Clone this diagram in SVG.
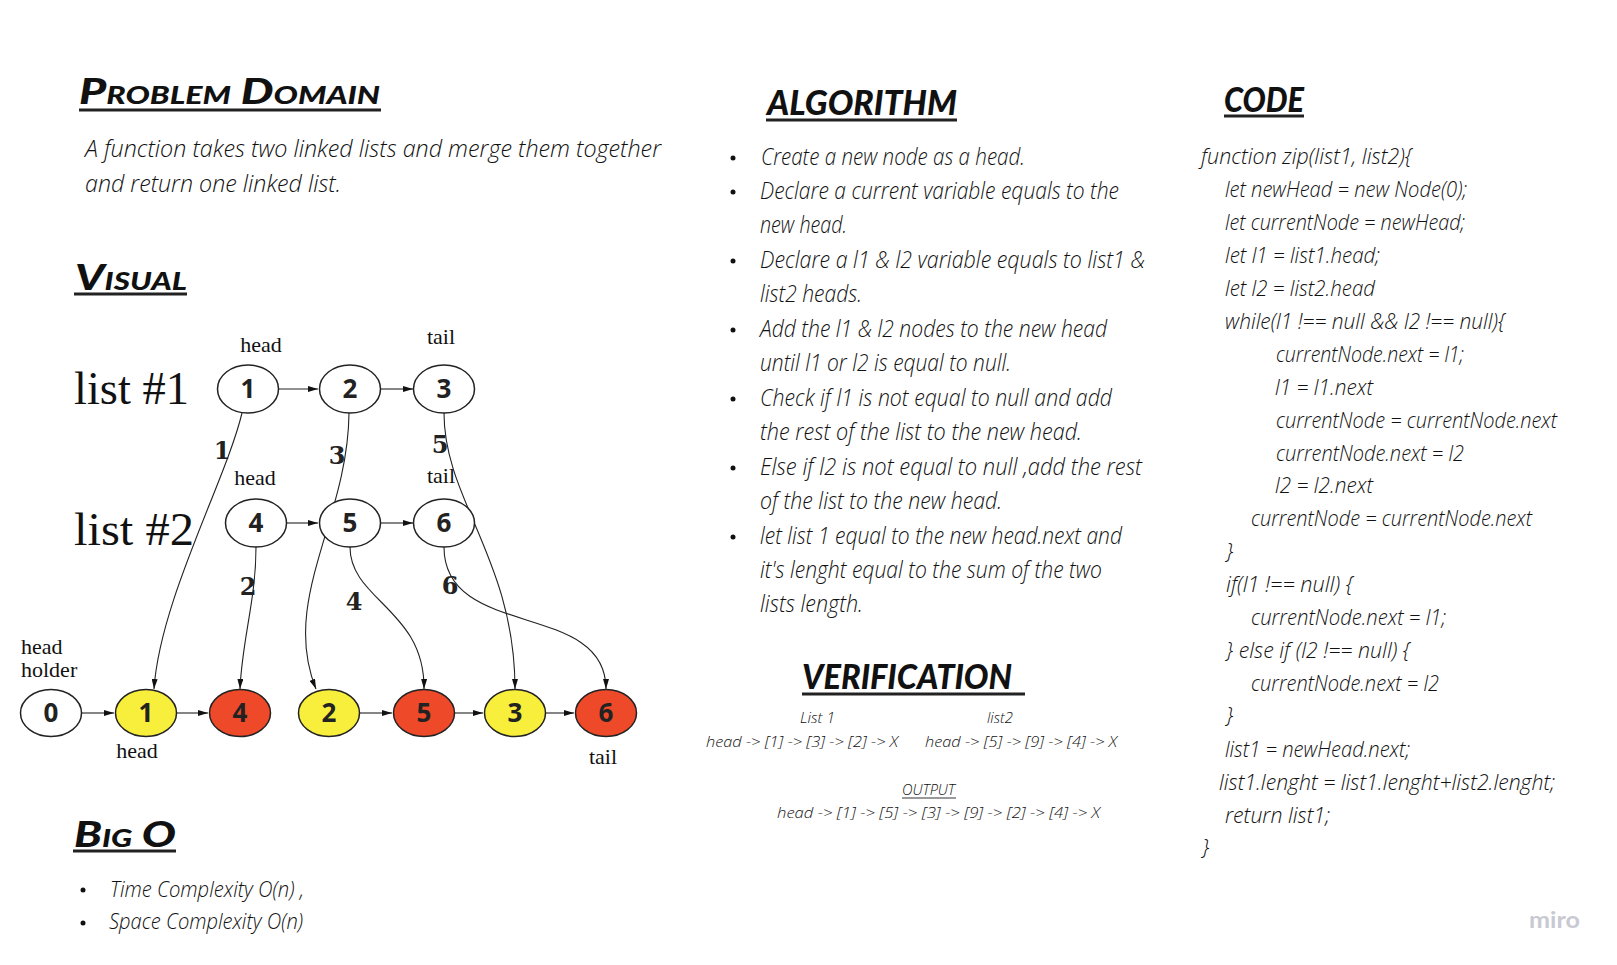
<svg xmlns="http://www.w3.org/2000/svg" width="1617" height="965" viewBox="0 0 1617 965">
<style>
.h{font-family:Lato,"Open Sans",sans-serif;font-weight:900;font-style:italic;fill:#111;}
.sc{font-variant:small-caps;}
.ul{stroke:#222;stroke-width:3;}
.t{font-family:"Open Sans","Liberation Sans",sans-serif;font-style:italic;font-weight:300;fill:#111;}
.ser{font-family:"Liberation Serif","DejaVu Serif",serif;fill:#111;}
.num{font-family:"DejaVu Serif","Liberation Serif",serif;font-weight:bold;font-size:24px;fill:#222;text-anchor:middle;}
.nd{stroke:#222;stroke-width:1.5;}
.nl{font-family:"Open Sans","DejaVu Sans",sans-serif;font-weight:700;font-size:26px;fill:#222;text-anchor:middle;}
.w{fill:#fff;}
.y{fill:#F8EE3C;}
.r{fill:#EE4A2A;}
.c{fill:none;stroke:#222;stroke-width:1.1;marker-end:url(#ah);}
.bl{fill:#111;}
</style>
<defs>
<marker id="ah" viewBox="0 0 10 6" refX="10" refY="3" markerWidth="10" markerHeight="6" markerUnits="userSpaceOnUse" orient="auto">
<path d="M0,0 L10,3 L0,6 Z" fill="#111"/>
</marker>
</defs>
<rect width="1617" height="965" fill="#fff"/>

<!-- Problem Domain -->
<g id="problem-domain">
<text class="h sc" x="79" y="104" font-size="36" textLength="301" lengthAdjust="spacingAndGlyphs">Problem Domain</text>
<line class="ul" x1="79" y1="110" x2="381" y2="110"/>
<text class="t" x="85" y="157" font-size="24" textLength="576" lengthAdjust="spacingAndGlyphs">A function takes two linked lists and merge them together</text>
<text class="t" x="85" y="192" font-size="24" textLength="256" lengthAdjust="spacingAndGlyphs">and return one linked list.</text>
</g>

<!-- Visual -->
<g id="visual-title">
<text class="h sc" x="75" y="290" font-size="36" textLength="112" lengthAdjust="spacingAndGlyphs">Visual</text>
<line class="ul" x1="74" y1="294" x2="187" y2="294"/>
</g>

<g id="labels">
<text class="ser" x="74" y="404" font-size="46" textLength="115" lengthAdjust="spacingAndGlyphs">list #1</text>
<text class="ser" x="74" y="545" font-size="46" textLength="120" lengthAdjust="spacingAndGlyphs">list #2</text>
<text class="ser" x="261" y="352" font-size="22" text-anchor="middle">head</text>
<text class="ser" x="441" y="344" font-size="22" text-anchor="middle">tail</text>
<text class="ser" x="255" y="485" font-size="22" text-anchor="middle">head</text>
<text class="ser" x="441" y="483" font-size="22" text-anchor="middle">tail</text>
<text class="ser" x="21" y="654" font-size="22">head</text>
<text class="ser" x="21" y="677" font-size="22">holder</text>
<text class="ser" x="137" y="758" font-size="22" text-anchor="middle">head</text>
<text class="ser" x="603" y="764" font-size="22" text-anchor="middle">tail</text>
<text class="num" x="222" y="459">1</text>
<text class="num" x="337" y="464">3</text>
<text class="num" x="440" y="453">5</text>
<text class="num" x="248" y="595">2</text>
<text class="num" x="354" y="610">4</text>
<text class="num" x="450" y="594">6</text>
</g>

<!-- connectors -->
<g id="connectors">
<line class="c" x1="279" y1="389" x2="318" y2="389"/>
<line class="c" x1="381" y1="389" x2="413" y2="389"/>
<line class="c" x1="287" y1="523" x2="318" y2="523"/>
<line class="c" x1="381" y1="523" x2="413" y2="523"/>
<line class="c" x1="82" y1="713" x2="114" y2="713"/>
<line class="c" x1="177" y1="713" x2="208" y2="713"/>
<line class="c" x1="360" y1="713" x2="392" y2="713"/>
<line class="c" x1="455" y1="713" x2="483" y2="713"/>
<line class="c" x1="546" y1="713" x2="574" y2="713"/>
<path class="c" d="M242,413 C226,480 160,600 154,689"/>
<path class="c" d="M256,547 C256,600 242,640 240,689"/>
<path class="c" d="M349,413 C348,520 280,600 316,689"/>
<path class="c" d="M350,547 C350,600 425,610 424,689"/>
<path class="c" d="M444,413 C444,500 515,560 515,689"/>
<path class="c" d="M444,547 C444,640 606,600 606,689"/>
</g>

<!-- nodes -->
<g id="n-l1-1"><ellipse class="nd w" cx="248" cy="389" rx="30.5" ry="24"/><text class="nl" x="248" y="398">1</text></g>
<g id="n-l1-2"><ellipse class="nd w" cx="350" cy="389" rx="30.5" ry="24"/><text class="nl" x="350" y="398">2</text></g>
<g id="n-l1-3"><ellipse class="nd w" cx="444" cy="389" rx="30.5" ry="24"/><text class="nl" x="444" y="398">3</text></g>
<g id="n-l2-4"><ellipse class="nd w" cx="256" cy="523" rx="30.5" ry="24"/><text class="nl" x="256" y="532">4</text></g>
<g id="n-l2-5"><ellipse class="nd w" cx="350" cy="523" rx="30.5" ry="24"/><text class="nl" x="350" y="532">5</text></g>
<g id="n-l2-6"><ellipse class="nd w" cx="444" cy="523" rx="30.5" ry="24"/><text class="nl" x="444" y="532">6</text></g>
<g id="n-r-0"><ellipse class="nd w" cx="51" cy="713" rx="30.5" ry="23.5"/><text class="nl" x="51" y="722">0</text></g>
<g id="n-r-1"><ellipse class="nd y" cx="146" cy="713" rx="30.5" ry="23.5"/><text class="nl" x="146" y="722">1</text></g>
<g id="n-r-4"><ellipse class="nd r" cx="240" cy="713" rx="30.5" ry="23.5"/><text class="nl" x="240" y="722">4</text></g>
<g id="n-r-2"><ellipse class="nd y" cx="329" cy="713" rx="30.5" ry="23.5"/><text class="nl" x="329" y="722">2</text></g>
<g id="n-r-5"><ellipse class="nd r" cx="424" cy="713" rx="30.5" ry="23.5"/><text class="nl" x="424" y="722">5</text></g>
<g id="n-r-3"><ellipse class="nd y" cx="515" cy="713" rx="30.5" ry="23.5"/><text class="nl" x="515" y="722">3</text></g>
<g id="n-r-6"><ellipse class="nd r" cx="606" cy="713" rx="30.5" ry="23.5"/><text class="nl" x="606" y="722">6</text></g>

<!-- Big O -->
<g id="big-o">
<text class="h sc" x="74" y="847" font-size="36" textLength="102" lengthAdjust="spacingAndGlyphs">Big O</text>
<line class="ul" x1="73" y1="851" x2="176" y2="851"/>
<circle class="bl" cx="83" cy="890" r="2.5"/>
<text class="t" x="110" y="897" font-size="22" textLength="194" lengthAdjust="spacingAndGlyphs">Time Complexity O(n) ,</text>
<circle class="bl" cx="83" cy="923" r="2.5"/>
<text class="t" x="109" y="929" font-size="22" textLength="194" lengthAdjust="spacingAndGlyphs">Space Complexity O(n)</text>
</g>

<!-- Algorithm -->
<g id="algorithm">
<text class="h" x="767" y="115" font-size="34" textLength="190" lengthAdjust="spacingAndGlyphs">ALGORITHM</text>
<line class="ul" x1="766" y1="120" x2="957" y2="120"/>
<circle class="bl" cx="733" cy="158" r="2.5"/>
<text class="t" x="761" y="165" font-size="23" textLength="264" lengthAdjust="spacingAndGlyphs">Create a new node as a head.</text>
<circle class="bl" cx="733" cy="192" r="2.5"/>
<text class="t" x="760" y="199" font-size="23" textLength="359" lengthAdjust="spacingAndGlyphs">Declare a current variable equals to the</text>
<text class="t" x="760" y="233" font-size="23" textLength="87" lengthAdjust="spacingAndGlyphs">new head.</text>
<circle class="bl" cx="733" cy="261" r="2.5"/>
<text class="t" x="760" y="268" font-size="23" textLength="385" lengthAdjust="spacingAndGlyphs">Declare a l1 &amp; l2 variable equals to list1 &amp;</text>
<text class="t" x="760" y="302" font-size="23" textLength="102" lengthAdjust="spacingAndGlyphs">list2 heads.</text>
<circle class="bl" cx="733" cy="330" r="2.5"/>
<text class="t" x="760" y="337" font-size="23" textLength="347" lengthAdjust="spacingAndGlyphs">Add the l1 &amp; l2 nodes to the new head</text>
<text class="t" x="760" y="371" font-size="23" textLength="251" lengthAdjust="spacingAndGlyphs">until l1 or l2 is equal to null.</text>
<circle class="bl" cx="733" cy="399" r="2.5"/>
<text class="t" x="760" y="406" font-size="23" textLength="352" lengthAdjust="spacingAndGlyphs">Check if  l1 is not equal to null and add</text>
<text class="t" x="760" y="440" font-size="23" textLength="322" lengthAdjust="spacingAndGlyphs">the rest of the list to the new head.</text>
<circle class="bl" cx="733" cy="468" r="2.5"/>
<text class="t" x="760" y="475" font-size="23" textLength="382" lengthAdjust="spacingAndGlyphs">Else  if l2 is not equal to null ,add the rest</text>
<text class="t" x="760" y="509" font-size="23" textLength="242" lengthAdjust="spacingAndGlyphs">of the list to the new head.</text>
<circle class="bl" cx="733" cy="537" r="2.5"/>
<text class="t" x="760" y="544" font-size="23" textLength="362" lengthAdjust="spacingAndGlyphs">let list 1 equal to the new head.next and</text>
<text class="t" x="760" y="578" font-size="23" textLength="342" lengthAdjust="spacingAndGlyphs">it's lenght equal to the sum of the two</text>
<text class="t" x="760" y="612" font-size="23" textLength="103" lengthAdjust="spacingAndGlyphs">lists length.</text>
</g>

<!-- Verification -->
<g id="verification">
<text class="h" x="802" y="689" font-size="34" textLength="210" lengthAdjust="spacingAndGlyphs">VERIFICATION</text>
<line class="ul" x1="802" y1="694" x2="1025" y2="694"/>
<text class="t" x="800" y="723" font-size="15" textLength="35" lengthAdjust="spacingAndGlyphs">List 1</text>
<text class="t" x="987" y="723" font-size="15" textLength="26" lengthAdjust="spacingAndGlyphs">list2</text>
<text class="t" x="706" y="747" font-size="15" textLength="192" lengthAdjust="spacingAndGlyphs">head -&gt; [1] -&gt; [3] -&gt; [2] -&gt; X</text>
<text class="t" x="925" y="747" font-size="15" textLength="192" lengthAdjust="spacingAndGlyphs">head -&gt; [5] -&gt; [9] -&gt; [4] -&gt; X</text>
<text class="t" x="902" y="795" font-size="15" textLength="53" lengthAdjust="spacingAndGlyphs">OUTPUT</text>
<line x1="902" y1="798" x2="956" y2="798" stroke="#333" stroke-width="1"/>
<text class="t" x="777" y="818" font-size="15" textLength="323" lengthAdjust="spacingAndGlyphs">head -&gt; [1] -&gt; [5] -&gt; [3] -&gt; [9] -&gt; [2] -&gt; [4] -&gt; X</text>
</g>

<!-- Code -->
<g id="code">
<text class="h" x="1224" y="112" font-size="34" textLength="80" lengthAdjust="spacingAndGlyphs">CODE</text>
<line class="ul" x1="1224" y1="116" x2="1304" y2="116"/>
<text class="t" x="1201" y="164" font-size="22" textLength="211" lengthAdjust="spacingAndGlyphs">function zip(list1, list2){</text>
<text class="t" x="1225" y="197" font-size="22" textLength="242" lengthAdjust="spacingAndGlyphs">let newHead = new Node(0);</text>
<text class="t" x="1225" y="230" font-size="22" textLength="240" lengthAdjust="spacingAndGlyphs">let currentNode = newHead;</text>
<text class="t" x="1225" y="263" font-size="22" textLength="155" lengthAdjust="spacingAndGlyphs">let l1 = list1.head;</text>
<text class="t" x="1225" y="296" font-size="22" textLength="150" lengthAdjust="spacingAndGlyphs">let l2 = list2.head</text>
<text class="t" x="1225" y="329" font-size="22" textLength="280" lengthAdjust="spacingAndGlyphs">while(l1 !== null &amp;&amp; l2 !== null){</text>
<text class="t" x="1276" y="362" font-size="22" textLength="188" lengthAdjust="spacingAndGlyphs">currentNode.next = l1;</text>
<text class="t" x="1275" y="395" font-size="22" textLength="98" lengthAdjust="spacingAndGlyphs">l1 = l1.next</text>
<text class="t" x="1276" y="428" font-size="22" textLength="281" lengthAdjust="spacingAndGlyphs">currentNode = currentNode.next</text>
<text class="t" x="1276" y="461" font-size="22" textLength="188" lengthAdjust="spacingAndGlyphs">currentNode.next = l2</text>
<text class="t" x="1275" y="493" font-size="22" textLength="98" lengthAdjust="spacingAndGlyphs">l2 = l2.next</text>
<text class="t" x="1251" y="526" font-size="22" textLength="281" lengthAdjust="spacingAndGlyphs">currentNode = currentNode.next</text>
<text class="t" x="1226" y="559" font-size="22">}</text>
<text class="t" x="1226" y="592" font-size="22" textLength="127" lengthAdjust="spacingAndGlyphs">if(l1 !== null) {</text>
<text class="t" x="1251" y="625" font-size="22" textLength="195" lengthAdjust="spacingAndGlyphs">currentNode.next = l1;</text>
<text class="t" x="1226" y="658" font-size="22" textLength="184" lengthAdjust="spacingAndGlyphs">} else if (l2 !== null) {</text>
<text class="t" x="1251" y="691" font-size="22" textLength="188" lengthAdjust="spacingAndGlyphs">currentNode.next = l2</text>
<text class="t" x="1226" y="723" font-size="22">}</text>
<text class="t" x="1225" y="757" font-size="22" textLength="185" lengthAdjust="spacingAndGlyphs">list1 = newHead.next;</text>
<text class="t" x="1219" y="790" font-size="22" textLength="336" lengthAdjust="spacingAndGlyphs">list1.lenght =  list1.lenght+list2.lenght;</text>
<text class="t" x="1225" y="823" font-size="22" textLength="105" lengthAdjust="spacingAndGlyphs">return list1;</text>
<text class="t" x="1202" y="855" font-size="22">}</text>
</g>

<text x="1529" y="928" font-family="Lato,'Open Sans',sans-serif" font-size="23" font-weight="700" fill="#C9C9D2" textLength="51" lengthAdjust="spacingAndGlyphs">miro</text>
</svg>
